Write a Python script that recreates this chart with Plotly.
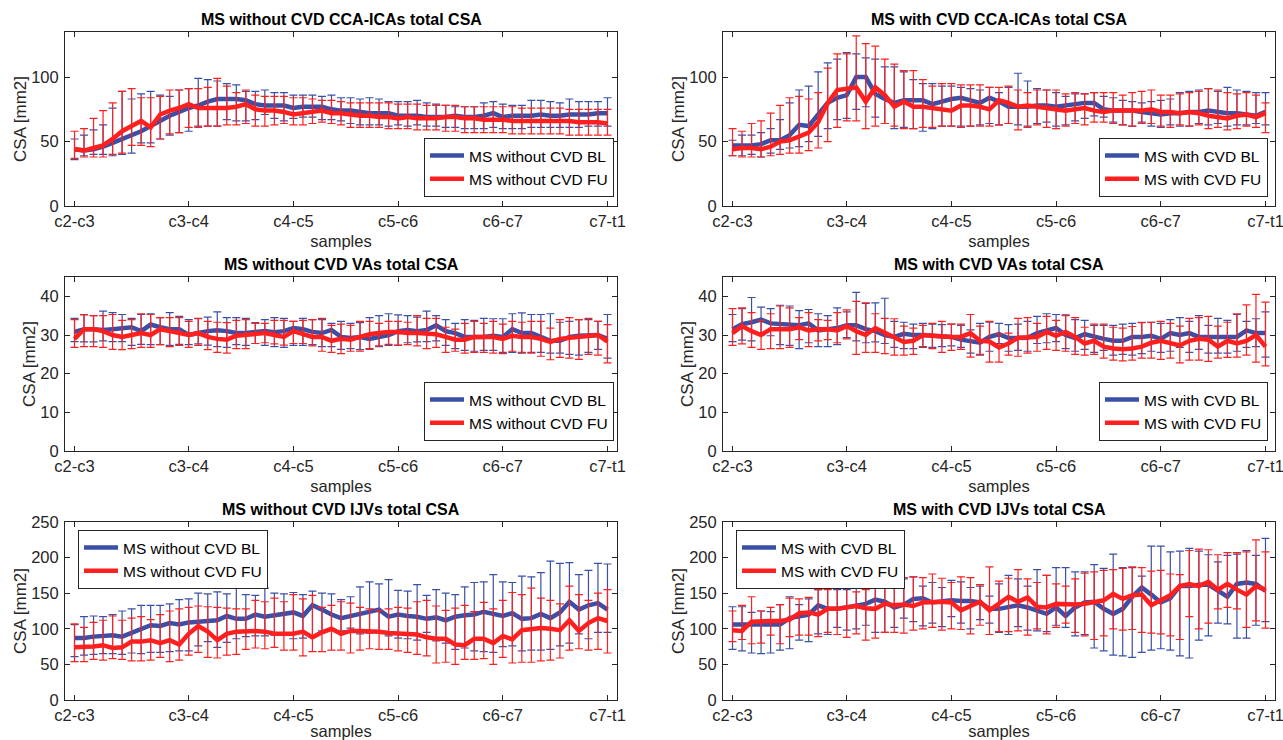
import plotly.graph_objects as go

# ---------------- data ----------------
samples = list(range(57))
tick_pos = [0, 12, 23, 34, 45, 56]
tick_labels = ["c2-c3", "c3-c4", "c4-c5", "c5-c6", "c6-c7", "c7-t1"]

# Panel 1: MS without CVD CCA-ICAs
p1_bl_mean = [44,43,44,46,49,52,55,58,62,66,70,73,76,78,81,83,83,83,82,79,78,78,78,76,77,77,77,75,74,74,73,72,72,72,70,70,70,69,69,69,70,69,69,70,72,69,70,70,70,71,70,70,71,71,71,72,72]
p1_bl_up = [52,55,59,63,76,89,83,87,89,86,85,90,91,99,98,97,95,94,89,89,90,88,88,86,86,86,85,86,84,84,83,84,83,81,81,81,82,80,79,78,77,77,77,80,81,79,78,78,82,82,81,80,83,81,81,81,84]
p1_bl_lo = [36,39,40,40,39,40,41,49,49,52,55,57,58,62,62,62,67,66,66,67,71,68,66,68,69,69,67,67,66,64,63,63,63,62,63,62,63,62,62,61,61,60,60,60,61,60,60,60,61,61,61,61,61,61,62,62,62]
p1_fu_mean = [44,43,45,47,52,58,62,66,61,71,74,76,79,76,76,76,76,77,79,75,74,74,73,71,72,73,74,72,72,71,70,70,69,69,68,69,68,68,68,69,69,68,68,67,67,67,66,66,66,66,66,66,66,65,65,65,64]
p1_fu_up = [58,60,68,74,80,89,91,84,84,85,90,90,91,91,92,99,93,88,90,86,85,85,85,84,84,83,82,82,81,80,80,80,80,80,79,79,79,78,78,78,78,77,77,77,77,77,77,76,76,76,76,76,75,75,75,75,75]
p1_fu_lo = [37,38,38,38,40,41,47,47,46,52,56,57,61,61,62,62,63,63,64,62,62,63,64,63,63,64,65,64,63,61,61,61,61,60,60,60,59,59,59,58,58,57,57,57,57,57,56,56,56,56,56,56,55,55,55,55,55]

# Panel 2: MS with CVD CCA-ICAs
p2_bl_mean = [47,47,47,48,51,51,55,63,62,71,80,84,86,100,100,87,83,80,82,82,82,79,81,83,84,82,80,84,81,77,77,77,78,78,77,78,79,80,80,75,74,74,74,73,72,71,72,72,73,73,74,73,72,72,71,70,73]
p2_bl_up = [51,55,55,57,60,67,80,90,93,104,111,114,119,118,115,114,108,108,104,98,95,95,93,93,92,91,90,92,88,92,103,97,91,90,88,85,87,87,88,85,84,82,81,80,81,82,83,88,89,90,91,89,92,90,89,88,88]
p2_bl_lo = [39,39,40,38,41,44,45,46,50,54,60,67,68,75,77,69,64,60,61,60,58,60,62,62,62,62,63,64,63,64,63,62,64,65,62,63,66,68,70,69,65,63,62,65,62,61,63,62,62,64,63,64,62,63,63,64,63]
p2_fu_mean = [44,45,45,44,46,50,51,54,57,65,80,90,91,92,81,92,86,77,81,77,77,76,75,74,78,78,77,75,82,80,77,78,77,76,75,74,75,76,74,73,74,74,74,74,75,73,73,72,73,72,70,69,68,70,71,69,72]
p2_fu_up = [60,58,64,66,72,78,84,85,83,88,107,118,118,132,126,124,114,110,105,105,98,93,95,95,94,94,94,92,92,93,90,88,90,90,90,87,88,87,88,88,88,86,88,89,90,86,86,87,88,89,91,90,88,87,88,86,80]
p2_fu_lo = [39,38,38,38,39,40,41,41,43,45,50,61,66,66,60,62,64,62,60,60,61,61,62,62,61,62,62,62,63,64,59,61,63,61,60,62,64,63,65,65,64,63,62,64,64,62,61,63,62,63,60,61,59,60,62,61,57]

# Panel 3: MS without CVD VAs
p3_bl_mean = [30.8,31.5,31.5,31.3,31.5,31.8,32,31,32.7,32,31.5,31.5,30,30.5,31,31.2,31,30.5,30.5,30.8,31,30.7,31,31.8,31.5,30.8,30.5,31.3,29.5,29.2,29.5,29,29.5,30,31,31.3,31,31.3,32.5,31,30.5,29.5,29.5,29.5,29.8,29.5,31.5,30.5,30.5,29.5,28.5,28.5,29.5,29.8,30,30,29]
p3_bl_up = [34.3,35.3,35,36.2,35.8,35.3,34.3,35.3,35.5,34.5,35.8,34.8,34,34.2,34.6,36,34.5,34.5,34.3,33.2,34,34.5,34.3,33.5,34.3,34,34,33,33.5,33,33.2,34.5,35,35.5,35.2,35,34.6,36.2,35,34,33,34,33.8,34.3,34.2,34.2,35.5,35.7,35.3,35.3,35.5,33.3,33.5,34,34,33.5,35.3]
p3_bl_lo = [28.3,28.2,28.2,28.5,28.3,28.3,27.3,27.6,27.5,27.5,27.3,27.6,27.5,27.7,27.4,27,26.8,27.5,27.3,27.8,27.3,27,26.8,27.3,27.3,27.5,27,27,26.3,26.5,26.2,26.5,27,27.3,27.3,28,28.2,28.3,28.5,27.3,26.5,26,25.8,26,26,25.5,25.5,25.3,25.5,25.5,25.3,25.3,25,24.8,25.5,26.3,24]
p3_fu_mean = [29,31.5,31.5,31,30,29.5,30,30.5,30,31.5,31,30.5,30,30.5,29.5,29,28.8,29.8,30,30.3,30.5,30,29.5,31,30.3,29.5,29.5,28.5,29,28.8,29.5,30.2,30.5,30.8,30.8,30.5,30.5,30.3,30.2,29.5,28.8,28.8,29.5,29.5,29.5,29,29.8,29.5,29.5,29,28.2,29,29.2,29.5,29.8,30,28.3]
p3_fu_up = [34,35.2,35,35,35.3,33.8,34,35.5,35.3,34.5,34.5,34.5,33.5,34.3,33.5,33.3,33.2,33.8,34,33,33,33.8,33.8,33.5,33.8,34,34.3,32.5,32.8,32.5,33.5,33.5,33,33.5,33.5,33.3,35,34.3,34.3,32,31.5,33,33.5,33,33.5,32.8,33.5,33.3,33.5,33.5,31.8,34,34.5,34,34.3,33.5,32.7]
p3_fu_lo = [26.8,27,27,26.8,26.3,26.2,26.5,26.8,26.8,27.5,27,27.3,26.8,27.3,26.2,25.5,25.3,26.5,26.5,27.8,28,27.7,27.4,27.8,27.8,27.2,25.8,25.5,25.2,25.8,25.8,26.3,27.2,27.6,27.4,27.5,27.2,26.5,26.8,25.5,25.8,25.3,25.5,25.5,25.3,25.2,25.8,25.5,25.3,24.5,23.6,24.2,24,23.7,25,24.8,22.8]

# Panel 4: MS with CVD VAs
p4_bl_mean = [31.5,32.8,33.3,34,33,32.8,32.5,32.5,33,31.2,31.5,31.8,32.5,32.5,31.5,31,30,29.5,30.3,30,30,29.8,29.5,29.5,28.8,28.3,28,29.5,30.2,29.2,29.3,29.3,30.5,31.2,31.8,30,29.2,30.2,29.5,29,28.5,28.5,29.5,29.5,29.8,29,30.5,30,30.5,29.5,29.5,29.5,29.5,29.5,31.2,30.5,30.5]
p4_bl_up = [35.3,36.8,39.7,37.2,36.8,37.7,37.5,36.3,36.6,35.5,35,37,36,41,38.2,38.3,39.5,33.5,33.3,32.8,33,32.8,32.7,32.8,32.5,31.3,33,33.3,33,32.7,32.8,33.5,34.8,35.5,35.3,35.2,34,33.8,32.5,32.5,32.5,32.8,33,33.3,33.3,33,34,34.5,33.5,35,32.5,34.3,33.8,35.3,33.5,34.2,36]
p4_bl_lo = [28.3,28.7,28.5,30,29.8,27.5,27.3,26.5,28,27,27,27.5,29.3,28.5,28,28.2,27.8,26.8,26.5,26.5,26.8,26.8,27,27.2,26.8,25.3,24.8,25.8,27.8,25.8,26,25.8,27.8,28,28.3,26.5,25.8,26.3,25.5,26,24.8,25,24.8,25.2,25.8,25.5,25.8,26.8,25.5,26.3,25.3,25.3,25.3,25.8,26.8,27,24.3]
p4_fu_mean = [30.5,32.3,31,30,31.5,31.5,31.5,32,31.2,31.5,31.5,31.2,32.3,31,30,31.8,30.5,29.3,28.2,28.5,30,29.8,29.6,29.5,29.5,30.5,28.5,28.3,26.8,27.8,29.3,29.5,29.5,30.8,29.8,30.8,29.5,27.8,28.5,27,26.5,26.3,26.5,27,28,28.5,28,27.3,28.5,29,28.8,27,28.5,27.8,28.5,30,27]
p4_fu_up = [36.8,37,35.8,33.8,35.5,37.5,37,34.5,35.8,34,33.8,35.8,36.5,38.7,38.3,35.5,34.3,34.2,32.3,31.8,32.5,33,33.5,32.8,32.8,35.3,32.3,33.5,30.3,30.5,34.3,34.5,33,34.8,33.8,35,34.5,32,32.8,32.8,32,31.8,32.2,33.2,33.3,33.5,33,32.3,34.3,34.5,34.8,32.3,33.3,35.5,37.8,40.5,38.5]
p4_fu_lo = [27.3,27.7,26.8,26.3,26.5,26.5,26.8,28.8,27,28.5,28.8,28,29,25,25.5,25.5,25.2,24.8,24.8,25,27,26.5,25.5,26,26.3,24.3,25,23,23,24.8,24.5,25.3,25.8,26.3,26,25.8,25,24.8,25,24,23.5,23.3,23.5,24,24,23.7,24,22.8,23.5,23.5,23.2,24,24.2,24.3,24.8,23,22]

# Panel 5: MS without CVD IJVs
p5_bl_mean = [87,87,89,90,91,89,94,99,105,104,108,106,109,110,111,112,118,114,114,120,117,119,120,123,118,133,127,120,115,118,121,124,127,117,120,118,117,114,116,112,117,119,120,124,121,118,122,114,115,121,115,123,138,127,133,136,127]
p5_bl_up = [106,117,118,117,120,125,128,133,133,133,135,141,142,150,149,152,149,160,148,147,157,150,149,151,148,153,150,149,141,145,159,166,163,169,154,153,162,147,155,150,148,159,165,166,176,166,165,174,173,179,195,192,193,176,182,192,191]
p5_bl_lo = [61,63,64,65,65,64,66,65,67,67,68,69,69,76,82,74,81,86,89,90,90,91,91,86,87,89,97,98,97,101,93,94,95,90,87,86,84,95,83,80,71,73,69,68,67,75,76,69,70,70,71,76,80,93,86,95,95]
p5_fu_mean = [74,74,75,77,73,74,82,82,84,80,84,78,93,104,96,84,93,96,97,97,96,93,93,93,96,88,95,100,93,97,97,97,96,94,93,92,92,88,86,86,78,77,86,86,80,90,85,98,100,101,100,98,112,97,108,115,111]
p5_fu_up = [107,102,109,112,118,112,115,117,113,120,125,128,130,132,131,130,129,128,128,140,138,143,138,148,142,147,130,133,138,136,130,128,126,128,130,129,138,140,132,126,129,133,124,137,128,140,151,148,157,143,140,135,160,148,140,150,155]
p5_fu_lo = [54,54,57,56,58,57,55,55,56,60,54,56,63,67,60,59,63,64,71,73,72,74,70,70,62,68,68,70,70,66,70,72,71,71,69,67,64,62,52,53,50,57,57,58,50,60,52,53,53,55,56,59,70,72,70,71,66]

# Panel 6: MS with CVD IJVs
p6_bl_mean = [106,106,105,105,106,106,115,118,120,133,128,128,130,133,135,141,138,130,134,142,143,137,138,140,139,139,137,128,128,130,133,130,125,121,130,118,130,137,138,128,121,128,145,158,148,137,143,160,160,162,162,153,145,163,165,163,153]
p6_bl_up = [131,131,123,125,124,134,145,134,142,155,163,155,155,163,172,163,165,172,170,173,160,165,158,168,166,158,160,146,163,175,170,160,183,175,186,186,180,180,190,185,205,186,186,174,216,216,208,209,213,209,204,194,203,205,210,203,227]
p6_bl_lo = [71,69,66,65,66,70,72,84,82,93,92,102,98,100,105,95,95,102,115,110,104,108,103,117,108,100,113,108,95,92,103,98,97,96,105,102,90,92,73,69,63,62,60,67,70,72,70,62,59,84,90,108,107,87,87,105,110]
p6_fu_mean = [98,97,110,111,111,111,113,122,123,120,128,128,130,132,129,128,135,133,134,132,137,138,138,137,126,132,138,126,135,145,138,144,131,130,135,134,134,135,138,140,149,142,147,148,133,140,147,160,163,160,166,155,163,155,148,160,155]
p6_fu_up = [125,133,145,125,130,134,143,142,144,155,155,160,162,152,155,157,164,166,172,173,172,177,171,165,173,172,162,187,167,171,183,170,165,175,163,160,170,178,180,182,183,185,187,186,181,182,177,176,210,212,211,204,207,207,208,225,208]
p6_fu_lo = [82,85,79,80,91,79,89,91,91,89,95,92,88,93,84,87,95,95,94,98,100,102,98,100,99,93,105,92,96,96,97,91,100,93,102,108,95,90,85,90,100,98,99,95,94,93,90,85,117,100,108,128,130,128,102,111,101]

titles = ["MS without CVD CCA-ICAs total CSA", "MS with CVD CCA-ICAs total CSA",
          "MS without CVD VAs total CSA", "MS with CVD VAs total CSA",
          "MS without CVD IJVs total CSA", "MS with CVD IJVs total CSA"]
groups = ["MS without CVD", "MS with CVD", "MS without CVD", "MS with CVD",
          "MS without CVD", "MS with CVD"]
y_max = [135, 135, 45, 45, 250, 250]
y_ticks = [[0, 50, 100], [0, 50, 100], [0, 10, 20, 30, 40], [0, 10, 20, 30, 40],
           [0, 50, 100, 150, 200, 250], [0, 50, 100, 150, 200, 250]]

series = [
    (p1_bl_mean, p1_bl_up, p1_bl_lo, p1_fu_mean, p1_fu_up, p1_fu_lo),
    (p2_bl_mean, p2_bl_up, p2_bl_lo, p2_fu_mean, p2_fu_up, p2_fu_lo),
    (p3_bl_mean, p3_bl_up, p3_bl_lo, p3_fu_mean, p3_fu_up, p3_fu_lo),
    (p4_bl_mean, p4_bl_up, p4_bl_lo, p4_fu_mean, p4_fu_up, p4_fu_lo),
    (p5_bl_mean, p5_bl_up, p5_bl_lo, p5_fu_mean, p5_fu_up, p5_fu_lo),
    (p6_bl_mean, p6_bl_up, p6_bl_lo, p6_fu_mean, p6_fu_up, p6_fu_lo),
]

# ---------------- style / layout ----------------
W, H = 1283, 740
BLUE = "#3A4FA6"
RED = "#FF1F1F"
AXC = "#262626"
FONT = "Liberation Sans, Arial, Helvetica, sans-serif"

x_dom = [[65 / W, 617 / W], [723 / W, 1275 / W]]
y_dom_px = [(32, 206), (277, 451), (522, 700)]
y_dom = [[1 - b / H, 1 - t / H] for t, b in y_dom_px]

legend_spec = [
    dict(x=614 / W, y=1 - 197 / H, xanchor="right", yanchor="bottom"),
    dict(x=1268 / W, y=1 - 197 / H, xanchor="right", yanchor="bottom"),
    dict(x=614 / W, y=1 - 441 / H, xanchor="right", yanchor="bottom"),
    dict(x=1268 / W, y=1 - 441 / H, xanchor="right", yanchor="bottom"),
    dict(x=78 / W, y=1 - 530 / H, xanchor="left", yanchor="top"),
    dict(x=736 / W, y=1 - 530 / H, xanchor="left", yanchor="top"),
]

fig = go.Figure()
layout = dict(
    template="none",
    width=W, height=H, margin=dict(l=0, r=0, t=0, b=0, autoexpand=False),
    paper_bgcolor="white", plot_bgcolor="white",
    font=dict(family=FONT, size=16, color=AXC),
    showlegend=True, annotations=[],
)


def err(mean, up, lo):
    return [u - m for u, m in zip(up, mean)], [m - l for m, l in zip(mean, lo)]


for k in range(6):
    r, c = divmod(k, 2)
    ax = "" if k == 0 else str(k + 1)
    leg = "legend" if k == 0 else "legend%d" % (k + 1)
    blm, blu, bll, fum, fuu, ful = series[k]
    for name, m, u, l, col in [(groups[k] + " BL", blm, blu, bll, BLUE),
                               (groups[k] + " FU", fum, fuu, ful, RED)]:
        plus, minus = err(m, u, l)
        fig.add_trace(go.Scatter(
            x=samples, y=m, mode="lines", name=name,
            line=dict(color=col, width=4.5),
            error_y=dict(type="data", symmetric=False, array=plus, arrayminus=minus,
                         color=col, thickness=1.2, width=4),
            xaxis="x" + ax, yaxis="y" + ax, legend=leg,
        ))
    layout["xaxis" + ax] = dict(
        domain=x_dom[c], anchor="y" + ax, range=[-1, 57], automargin=False,
        tickmode="array", tickvals=tick_pos, ticktext=tick_labels,
        ticklabeloverflow="allow",
        ticks="inside", ticklen=5, tickcolor=AXC, showline=True, linecolor=AXC,
        linewidth=1, mirror="ticks", showgrid=False, zeroline=False,
        tickfont=dict(size=16.5, color=AXC),
        title=dict(text="samples", font=dict(size=16.5, color=AXC), standoff=6),
    )
    layout["yaxis" + ax] = dict(
        domain=y_dom[r], anchor="x" + ax, range=[0, y_max[k]], automargin=False,
        tickmode="array", tickvals=y_ticks[k], ticklabeloverflow="allow",
        ticklabelstandoff=2,
        ticks="inside", ticklen=5, tickcolor=AXC, showline=True, linecolor=AXC,
        linewidth=1, mirror="ticks", showgrid=False, zeroline=False,
        tickfont=dict(size=16.5, color=AXC),
        title=dict(text="CSA [mm2]", font=dict(size=17, color=AXC), standoff=0),
    )
    layout[leg] = dict(
        **legend_spec[k], bgcolor="white", bordercolor=AXC, borderwidth=1,
        font=dict(size=15.5, color="black"), tracegroupgap=0,
        itemwidth=34,
    )
    layout["annotations"].append(dict(
        text="<b>" + titles[k] + "</b>", xref="paper", yref="paper",
        x=(x_dom[c][0] + x_dom[c][1]) / 2, y=y_dom[r][1], yshift=2,
        xanchor="center", yanchor="bottom", showarrow=False,
        font=dict(size=16, color="black", family=FONT),
    ))

fig.update_layout(**layout)
fig.write_html("out.html", config={"displayModeBar": False},
               post_script="document.body.style.margin='0px';")
